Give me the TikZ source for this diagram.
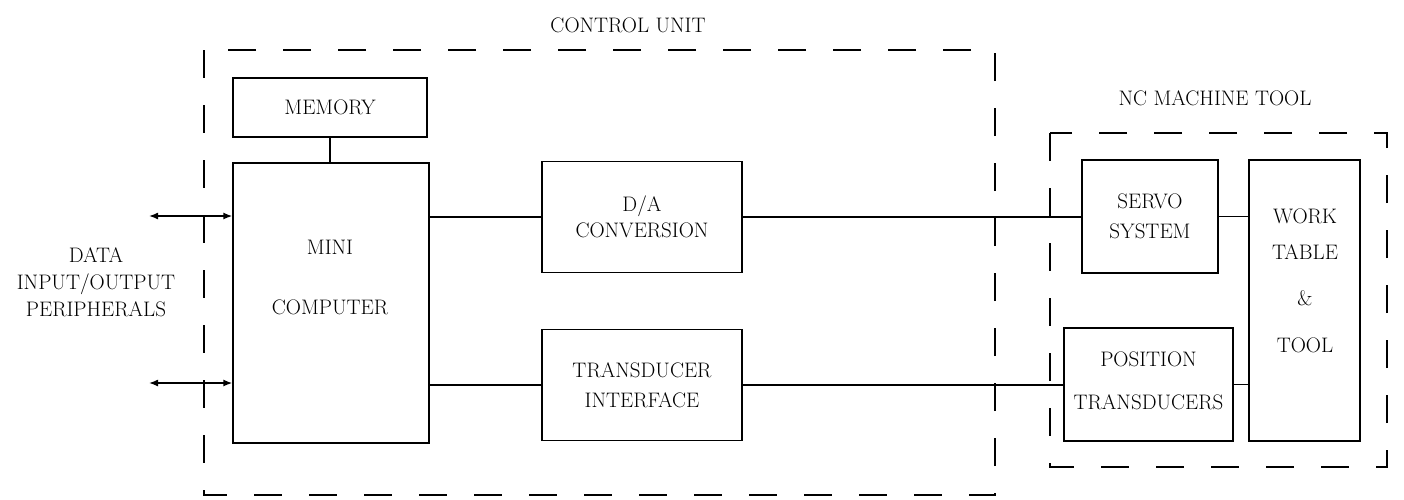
\documentclass[tikz,border=0pt]{standalone}
\usetikzlibrary{arrows.meta}
\begin{document}
\begin{tikzpicture}[x=1pt,y=-1pt,
  every node/.style={font=\fontsize{21}{25}\selectfont, inner sep=0pt, align=center},
  blk/.style={draw, line width=1.4pt},
  dashbox/.style={draw, line width=1.4pt, dash pattern=on 28pt off 27pt},
  conn/.style={line width=1.4pt},
  io/.style={line width=1.4pt, {Latex[length=9pt,width=7pt]}-{Latex[length=9pt,width=7pt]}}
]
\useasboundingbox (0,0) rectangle (1404,499);
\fill[white] (0,0) rectangle (1404,499);

% dashed enclosures
\draw[dashbox] (204,50) rectangle (995,495);
\draw[dashbox] (1050,133) rectangle (1387,467);
\node (cutitle) at (628,25) {CONTROL UNIT};
\node (nctitle) at (1215,98) {NC MACHINE TOOL};

% blocks
\node[blk, minimum width=194pt, minimum height=59pt] (mem) at (330,107.5) {MEMORY};
\node[blk, minimum width=196pt, minimum height=280pt] (mini) at (331,303) {};
\node (minitxt) at (330,277) {MINI\\[35pt]COMPUTER};
\node[blk, minimum width=200pt, minimum height=111pt] (da) at (642,217) {D/A\\[1pt]CONVERSION};
\node[blk, minimum width=200pt, minimum height=111pt] (td) at (642,385) {TRANSDUCER\\[5pt]INTERFACE};
\node[blk, minimum width=136pt, minimum height=113pt] (servo) at (1150,216.5) {SERVO\\[5pt]SYSTEM};
\node[blk, minimum width=169pt, minimum height=113pt] (pos) at (1148.5,384.5) {};
\node (postxt) at (1148.5,381) {POSITION\\[18pt]TRANSDUCERS};
\node[blk, minimum width=111pt, minimum height=281pt] (work) at (1304.5,300.5) {};
\node (worktxt) at (1305,281) {WORK\\[11pt]TABLE\\[21pt]\&\\[22pt]TOOL};

\node (data) at (96,282) {DATA\\[2pt]INPUT/OUTPUT\\[2pt]PERIPHERALS};

% connectors
\draw[conn] (mem.south) -- (mem.south |- mini.north);
\draw[conn] (mini.east |- da.west) -- (da.west);
\draw[conn] (mini.east |- td.west) -- (td.west);
\draw[conn] (da.east) -- (servo.west |- da.east);
\draw[conn] (td.east) -- (pos.west |- td.east);
\draw[conn] (servo.east) -- (servo.east -| work.west);
\draw[conn] (pos.east) -- (pos.east -| work.west);

\coordinate (io1) at (149,216);
\coordinate (io2) at (149,383);
\draw[io] (io1) -- (io1 -| mini.west);
\draw[io] (io2) -- (io2 -| mini.west);
\end{tikzpicture}
\end{document}
